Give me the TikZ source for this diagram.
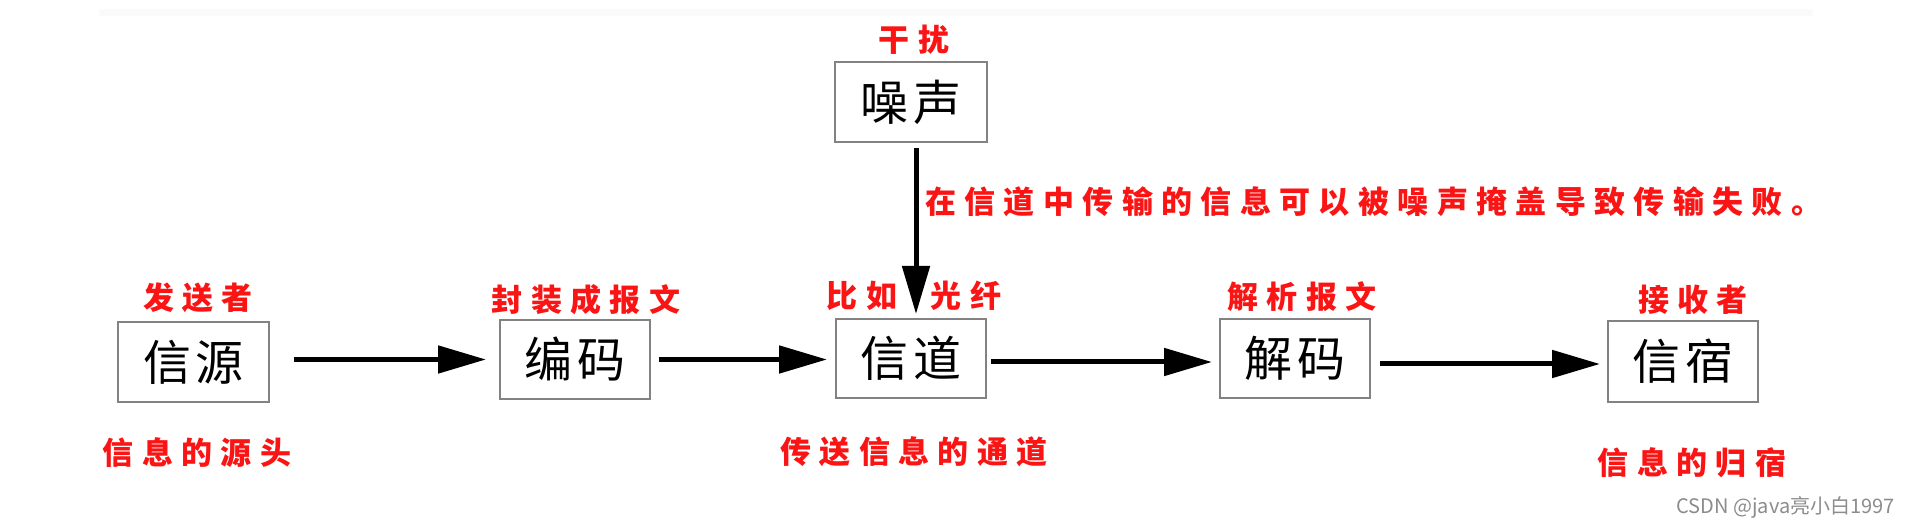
\documentclass[tikz,border=0pt]{standalone}
\usepackage{fontspec}
\usetikzlibrary{arrows.meta}
\newfontfamily\boxfont[LetterSpace=10]{Noto Sans CJK SC}
\newfontfamily\redfont[LetterSpace=27]{Noto Sans CJK SC}
\newfontfamily\wmfont{Noto Sans CJK SC}
\definecolor{boxgray}{RGB}{130,130,130}
\definecolor{lblred}{RGB}{250,20,20}
\definecolor{wmgray}{RGB}{140,140,140}
\tikzset{
  blk/.style={draw=boxgray, line width=2pt, fill=white, inner sep=0pt,
    minimum width=150pt, minimum height=80pt,
    font=\boxfont\fontsize{48}{48}\selectfont},
  lbl/.style={text=lblred, inner sep=0pt,
    font=\redfont\bfseries\fontsize{31}{31}\selectfont},
  arr/.style={line width=5pt, -{Triangle[length=48pt,width=27pt]}},
}
\begin{document}
\begin{tikzpicture}[x=1pt,y=-1pt]
\useasboundingbox (0,0) rectangle (1911,526);
\fill[white] (0,0) rectangle (1911,526);
\fill[gray!4] (99,9) rectangle (1813,16);

% boxes
\node[blk, minimum width=152pt] (noise) at (911,102) {噪声};
\node[blk, minimum width=151pt] (src) at (193.5,362) {信源};
\node[blk, minimum height=79pt] (enc) at (575,359.5) {编码};
\node[blk, minimum height=79pt] (chan) at (911,358.5) {信道};
\node[blk, minimum height=79pt] (dec) at (1295,358.5) {解码};
\node[blk, minimum height=81pt] (dst) at (1683,361.5) {信宿};

% arrows
\draw[arr, shorten <=24pt, shorten >=13pt] (enc.west -| src.east) -- (enc.west);
\draw[arr, shorten <=8pt, shorten >=8pt] (enc.east) -- (enc.east -| chan.west);
\draw[arr, shorten <=4pt, shorten >=7pt] ([yshift=-3.5pt]chan.east) -- ([yshift=-3.5pt]chan.east -| dec.west);
\draw[arr, shorten <=9pt, shorten >=7pt] ([yshift=-5.5pt]dec.east) -- ([yshift=-5.5pt]dec.east -| dst.west);
\draw[arr, shorten <=5pt, shorten >=4pt] ([xshift=5pt]noise.south) -- ([xshift=5pt]chan.north);

% red labels
\node[lbl] (l_noise) at (914,40) {干扰};
\node[lbl, anchor=west] (l_long) at (925,202) {在信道中传输的信息可以被噪声掩盖导致传输失败。};
\node[lbl] (l_src) at (198,298) {发送者};
\node[lbl] (l_enc) at (586,300) {封装成报文};
\node[lbl] (l_bi) at (862,296) {比如};
\node[lbl] (l_gx) at (966,296) {光纤};
\node[lbl] (l_dec) at (1302,297) {解析报文};
\node[lbl] (l_dst) at (1693,300) {接收者};
\node[lbl] (l_srcb) at (197,453) {信息的源头};
\node[lbl] (l_chanb) at (914,452) {传送信息的通道};
\node[lbl] (l_dstb) at (1692,463) {信息的归宿};

% watermark
\node[anchor=east, inner sep=0pt, text=wmgray, font=\wmfont\fontsize{20}{20}\selectfont] (wm) at (1895,507) {CSDN @java亮小白1997};
\end{tikzpicture}
\end{document}
